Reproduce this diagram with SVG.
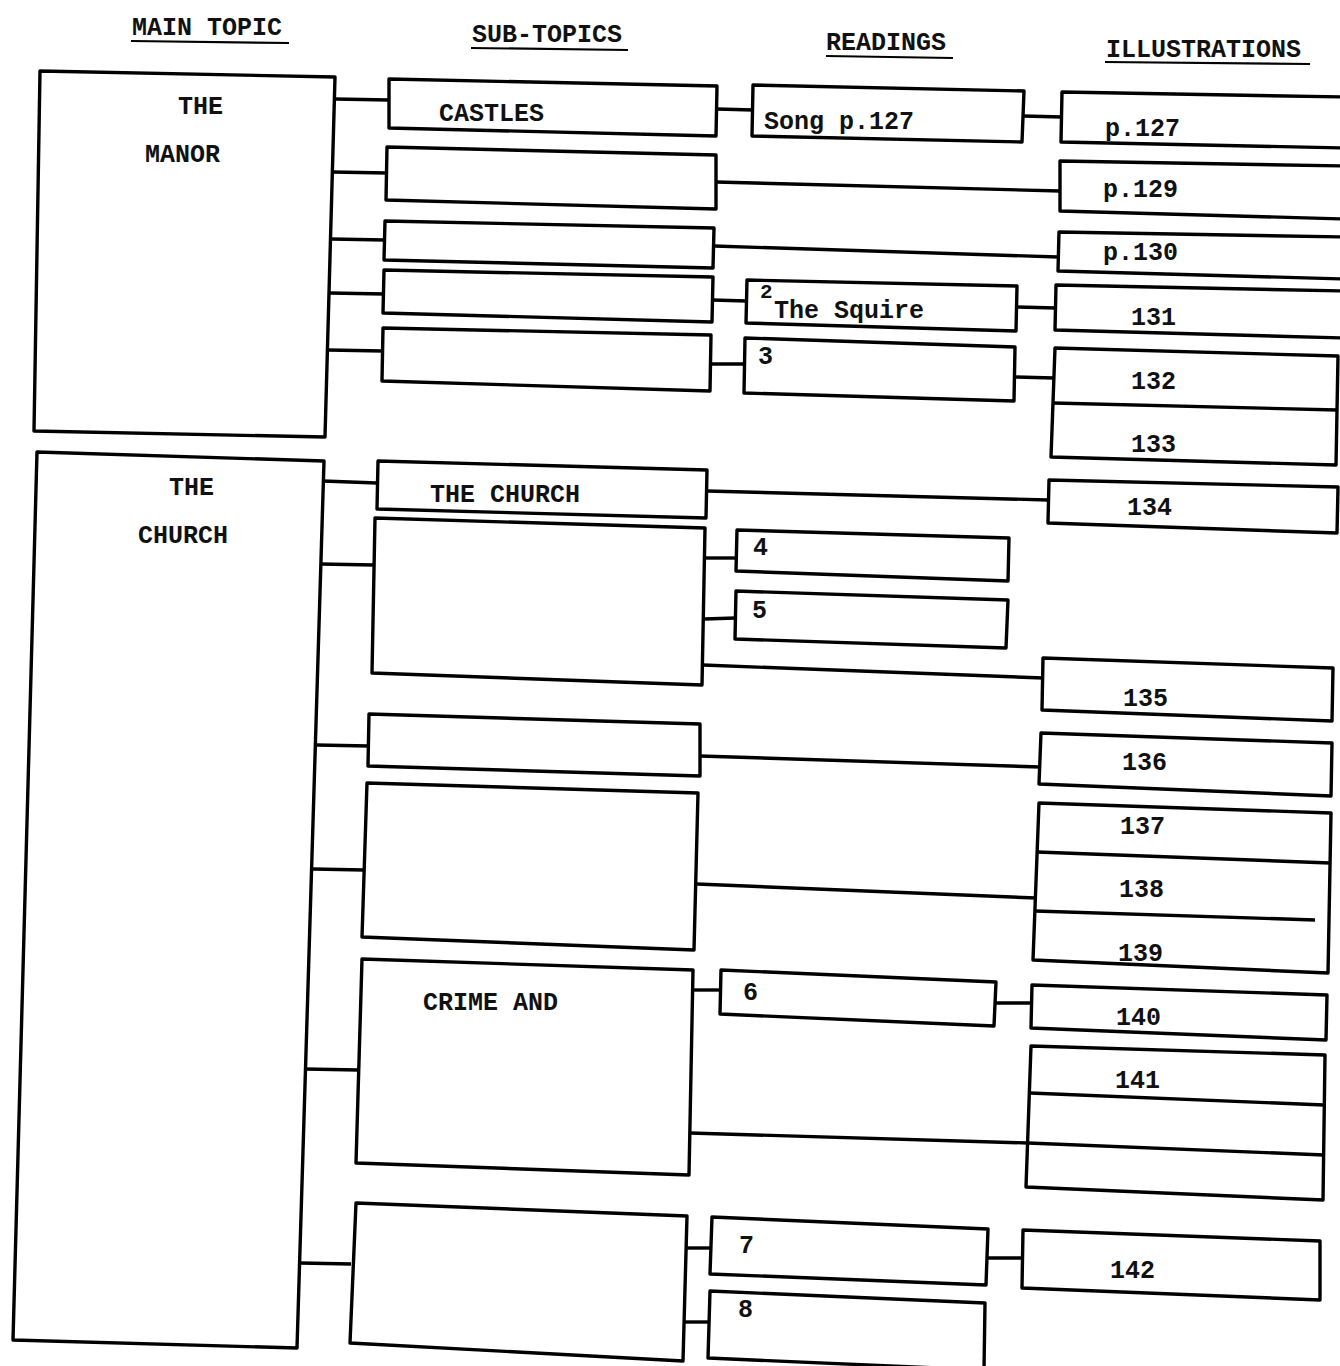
<svg xmlns="http://www.w3.org/2000/svg" width="1340" height="1366" viewBox="0 0 1340 1366">
<style>
.box{fill:none;stroke:#000;stroke-width:3.4;stroke-linejoin:round}
.ln{fill:none;stroke:#000;stroke-width:3.4;stroke-linecap:butt}
.hd{fill:none;stroke:#000;stroke-width:2.2}
text{font-family:"Liberation Mono","DejaVu Sans Mono",monospace;font-size:25px;font-weight:bold;fill:#111}
.sup{font-size:21px}
</style>
<rect width="1340" height="1366" fill="#fff"/>
<g id="headers">
<text x="132" y="35">MAIN TOPIC</text><line class="hd" x1="131" y1="41" x2="289" y2="43"/>
<text x="472" y="42">SUB-TOPICS</text><line class="hd" x1="471" y1="48" x2="628" y2="50"/>
<text x="826" y="50">READINGS</text><line class="hd" x1="826" y1="56" x2="953" y2="58"/>
<text x="1106" y="57">ILLUSTRATIONS</text><line class="hd" x1="1105" y1="62" x2="1310" y2="64"/>
</g>
<g id="connectors">
<line class="ln" x1="335" y1="99" x2="389" y2="100"/>
<line class="ln" x1="332" y1="172" x2="387" y2="173"/>
<line class="ln" x1="331" y1="239" x2="385" y2="240"/>
<line class="ln" x1="330" y1="293" x2="384" y2="294"/>
<line class="ln" x1="328" y1="350" x2="383" y2="351"/>
<line class="ln" x1="717" y1="109" x2="753" y2="110"/>
<line class="ln" x1="1023" y1="116" x2="1062" y2="117"/>
<line class="ln" x1="716" y1="182" x2="1060" y2="191"/>
<line class="ln" x1="714" y1="246" x2="1058" y2="257"/>
<line class="ln" x1="712" y1="300" x2="747" y2="301"/>
<line class="ln" x1="1017" y1="307" x2="1056" y2="308"/>
<line class="ln" x1="710" y1="364" x2="745" y2="364"/>
<line class="ln" x1="1015" y1="377" x2="1054" y2="378"/>
<line class="ln" x1="323" y1="481" x2="377" y2="483"/>
<line class="ln" x1="707" y1="491" x2="1048" y2="500"/>
<line class="ln" x1="320" y1="564" x2="374" y2="565"/>
<line class="ln" x1="705" y1="558" x2="737" y2="558"/>
<line class="ln" x1="704" y1="619" x2="736" y2="618"/>
<line class="ln" x1="703" y1="665" x2="1043" y2="678"/>
<line class="ln" x1="316" y1="745" x2="369" y2="746"/>
<line class="ln" x1="700" y1="756" x2="1040" y2="767"/>
<line class="ln" x1="313" y1="869" x2="364" y2="870"/>
<line class="ln" x1="697" y1="884" x2="1036" y2="898"/>
<line class="ln" x1="305" y1="1069" x2="358" y2="1070"/>
<line class="ln" x1="693" y1="990" x2="721" y2="990"/>
<line class="ln" x1="995" y1="1003" x2="1032" y2="1003"/>
<line class="ln" x1="690" y1="1133" x2="1028" y2="1143"/>
<line class="ln" x1="300" y1="1263" x2="351" y2="1264"/>
<line class="ln" x1="686" y1="1248" x2="712" y2="1248"/>
<line class="ln" x1="987" y1="1258" x2="1022" y2="1258"/>
<line class="ln" x1="684" y1="1322" x2="709" y2="1322"/>
</g>
<g id="main-manor"><polygon class="box" points="40,71 335,77 325,437 34,431"/><text x="178" y="114">THE</text><text x="145" y="162">MANOR</text></g>
<g id="main-church"><polygon class="box" points="37,452 324,461 297,1348 13,1340"/><text x="169" y="495">THE</text><text x="138" y="543">CHURCH</text></g>
<g id="sub-castles"><polygon class="box" points="389,79 717,86 716,136 389,128"/><text x="439" y="121">CASTLES</text></g>
<g id="sub-2"><polygon class="box" points="387,147 716,155 716,209 386,200"/></g>
<g id="sub-3"><polygon class="box" points="385,221 714,228 713,268 384,260"/></g>
<g id="sub-4"><polygon class="box" points="384,270 713,277 712,322 383,313"/></g>
<g id="sub-5"><polygon class="box" points="383,328 711,335 710,391 382,381"/></g>
<g id="read-song"><polygon class="box" points="753,85 1024,91 1022,142 752,136"/><text x="764" y="129">Song p.127</text></g>
<g id="read-2"><polygon class="box" points="747,280 1017,286 1016,331 746,323"/><text class="sup" x="760" y="298">2</text><text x="774" y="318">The Squire</text></g>
<g id="read-3"><polygon class="box" points="745,338 1015,347 1014,401 744,393"/><text x="758" y="364">3</text></g>
<g id="ill-127"><polygon class="box" points="1062,92 1345,97 1345,148 1061,142"/><text x="1105" y="136">p.127</text></g>
<g id="ill-129"><polygon class="box" points="1060,161 1345,166 1345,219 1060,211"/><text x="1103" y="197">p.129</text></g>
<g id="ill-130"><polygon class="box" points="1059,232 1345,237 1345,279 1058,271"/><text x="1103" y="260">p.130</text></g>
<g id="ill-131"><polygon class="box" points="1056,285 1345,291 1345,338 1055,330"/><text x="1131" y="325">131</text></g>
<g id="ill-132-133"><polygon class="box" points="1055,348 1338,356 1336,465 1051,457"/><line class="ln" x1="1053" y1="403" x2="1337" y2="410"/><text x="1131" y="389">132</text><text x="1131" y="452">133</text></g>
<g id="sub-church"><polygon class="box" points="378,461 707,470 706,518 377,509"/><text x="430" y="502">THE CHURCH</text></g>
<g id="sub-c2"><polygon class="box" points="375,518 705,528 702,685 372,673"/></g>
<g id="sub-c3"><polygon class="box" points="369,714 700,724 700,776 368,766"/></g>
<g id="sub-c4"><polygon class="box" points="367,783 698,793 694,950 362,937"/></g>
<g id="sub-crime"><polygon class="box" points="362,959 693,970 689,1175 356,1163"/><text x="423" y="1010">CRIME AND</text></g>
<g id="sub-c6"><polygon class="box" points="356,1203 687,1216 683,1361 350,1343"/></g>
<g id="read-4"><polygon class="box" points="737,530 1009,538 1008,581 736,571"/><text x="753" y="555">4</text></g>
<g id="read-5"><polygon class="box" points="736,591 1008,600 1006,648 735,639"/><text x="752" y="618">5</text></g>
<g id="read-6"><polygon class="box" points="721,970 996,982 994,1026 720,1014"/><text x="743" y="1000">6</text></g>
<g id="read-7"><polygon class="box" points="712,1217 988,1229 986,1285 710,1274"/><text x="739" y="1253">7</text></g>
<g id="read-8"><polygon class="box" points="710,1291 985,1303 984,1370 708,1358"/><text x="738" y="1317">8</text></g>
<g id="ill-134"><polygon class="box" points="1049,480 1338,487 1337,533 1048,523"/><text x="1127" y="515">134</text></g>
<g id="ill-135"><polygon class="box" points="1043,658 1333,668 1332,721 1042,710"/><text x="1123" y="706">135</text></g>
<g id="ill-136"><polygon class="box" points="1041,733 1332,743 1331,796 1039,784"/><text x="1122" y="770">136</text></g>
<g id="ill-137-139"><polygon class="box" points="1039,803 1331,813 1328,973 1033,960"/><line class="ln" x1="1037" y1="852" x2="1330" y2="863"/><line class="ln" x1="1035" y1="911" x2="1315" y2="920"/><text x="1120" y="834">137</text><text x="1119" y="897">138</text><text x="1118" y="961">139</text></g>
<g id="ill-140"><polygon class="box" points="1032,985 1327,995 1326,1040 1031,1028"/><text x="1116" y="1025">140</text></g>
<g id="ill-141"><polygon class="box" points="1031,1046 1325,1055 1323,1200 1026,1187"/><line class="ln" x1="1030" y1="1093" x2="1324" y2="1105"/><line class="ln" x1="1028" y1="1143" x2="1324" y2="1155"/><text x="1115" y="1088">141</text></g>
<g id="ill-142"><polygon class="box" points="1023,1230 1320,1241 1320,1300 1022,1288"/><text x="1110" y="1278">142</text></g>
</svg>
